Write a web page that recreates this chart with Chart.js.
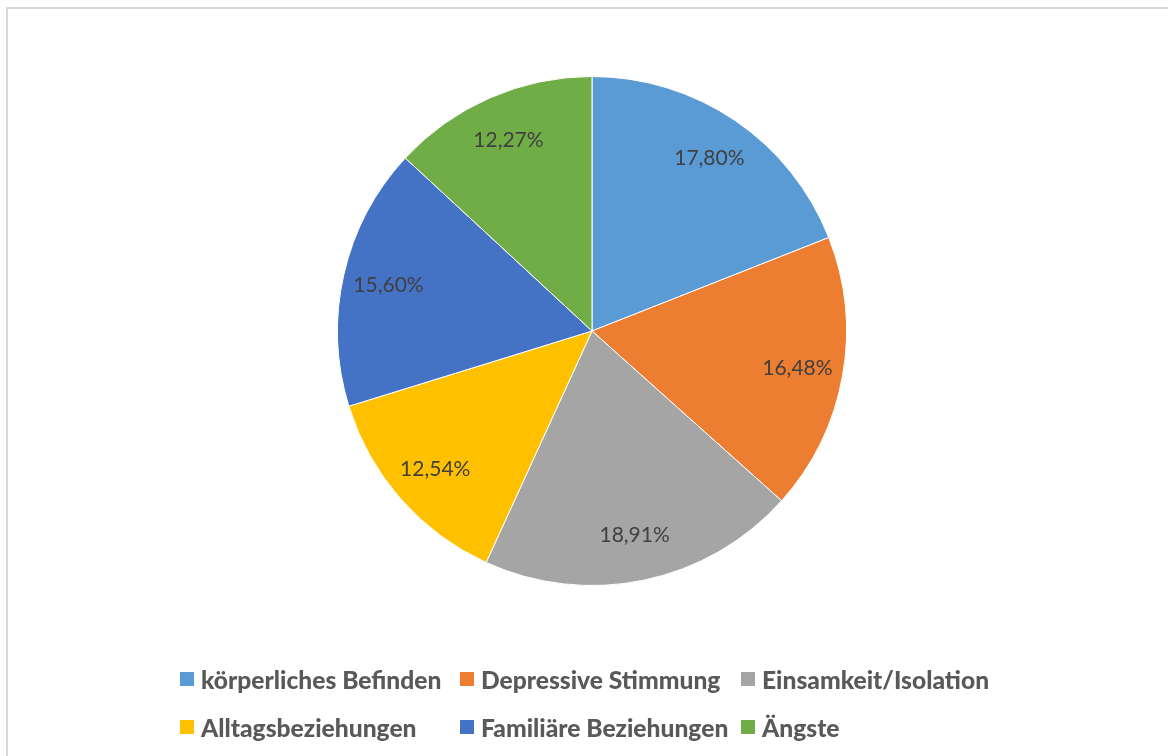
<!DOCTYPE html>
<html>
<head>
<meta charset="utf-8">
<script src="https://cdn.jsdelivr.net/npm/chart.js@4/dist/chart.umd.min.js"></script>
<style>
  html, body { margin: 0; padding: 0; background: #fff; width: 1168px; height: 756px; overflow: hidden; }
  #frame { position: absolute; left: 6px; top: 7px; width: 1200px; height: 800px; border: 2px solid #d9d9d9; box-sizing: border-box; }
  #wrap { position: absolute; left: 0; top: 0; width: 1168px; height: 662px; }
  #legend { position: absolute; left: 0; top: 0; width: 1168px; height: 756px; pointer-events: none; }
  .item { position: absolute; height: 30px; display: flex; align-items: center; font-family: Lato, "Open Sans", sans-serif; font-weight: 900; font-size: 24.6px; color: #595959; white-space: nowrap; }
  .box { width: 14px; height: 14px; margin-right: 7px; flex: none; }
</style>
</head>
<body>
<div id="frame"></div>
<div id="wrap"><canvas id="c"></canvas></div>
<div id="legend"></div>
<script>
const categories = ["körperliches Befinden", "Depressive Stimmung", "Einsamkeit/Isolation", "Alltagsbeziehungen", "Familiäre Beziehungen", "Ängste"];
const values = [17.80, 16.48, 18.91, 12.54, 15.60, 12.27];
const valueLabels = ["17,80%", "16,48%", "18,91%", "12,54%", "15,60%", "12,27%"];
const colors = ["#5B9BD5", "#ED7D31", "#A5A5A5", "#FFC000", "#4472C4", "#70AD47"];

const labelPlugin = {
  id: 'sliceLabels',
  afterDatasetsDraw(chart) {
    const ctx = chart.ctx;
    const meta = chart.getDatasetMeta(0);
    ctx.save();
    ctx.font = '21px Lato, "Open Sans", sans-serif';
    ctx.fillStyle = '#404040';
    ctx.textAlign = 'center';
    ctx.textBaseline = 'middle';
    meta.data.forEach((arc, i) => {
      const p = arc.getProps(['x', 'y', 'startAngle', 'endAngle', 'outerRadius'], true);
      const mid = (p.startAngle + p.endAngle) / 2;
      const r = p.outerRadius * 0.82;
      ctx.fillText(valueLabels[i], p.x + Math.cos(mid) * r, p.y + Math.sin(mid) * r);
    });
    ctx.restore();
  }
};

new Chart(document.getElementById('c'), {
  type: 'pie',
  data: {
    labels: categories,
    datasets: [{ data: values, backgroundColor: colors, borderColor: '#ffffff', borderWidth: 1 }]
  },
  options: {
    responsive: true,
    maintainAspectRatio: false,
    animation: false,
    events: [],
    layout: { padding: { top: 76, bottom: 76, left: 16, right: 0 } },
    plugins: { legend: { display: false }, tooltip: { enabled: false } }
  },
  plugins: [labelPlugin]
});

// Legend in a grid like the reference
const legendCols = [180, 460, 741];
const legendRows = [679, 727];
const legend = document.getElementById('legend');
categories.forEach((name, i) => {
  const el = document.createElement('div');
  el.className = 'item';
  el.style.left = legendCols[i % 3] + 'px';
  el.style.top = (legendRows[Math.floor(i / 3)] - 15) + 'px';
  const b = document.createElement('span');
  b.className = 'box';
  b.style.background = colors[i];
  const t = document.createElement('span');
  t.textContent = name;
  el.appendChild(b); el.appendChild(t);
  legend.appendChild(el);
});
</script>
</body>
</html>
